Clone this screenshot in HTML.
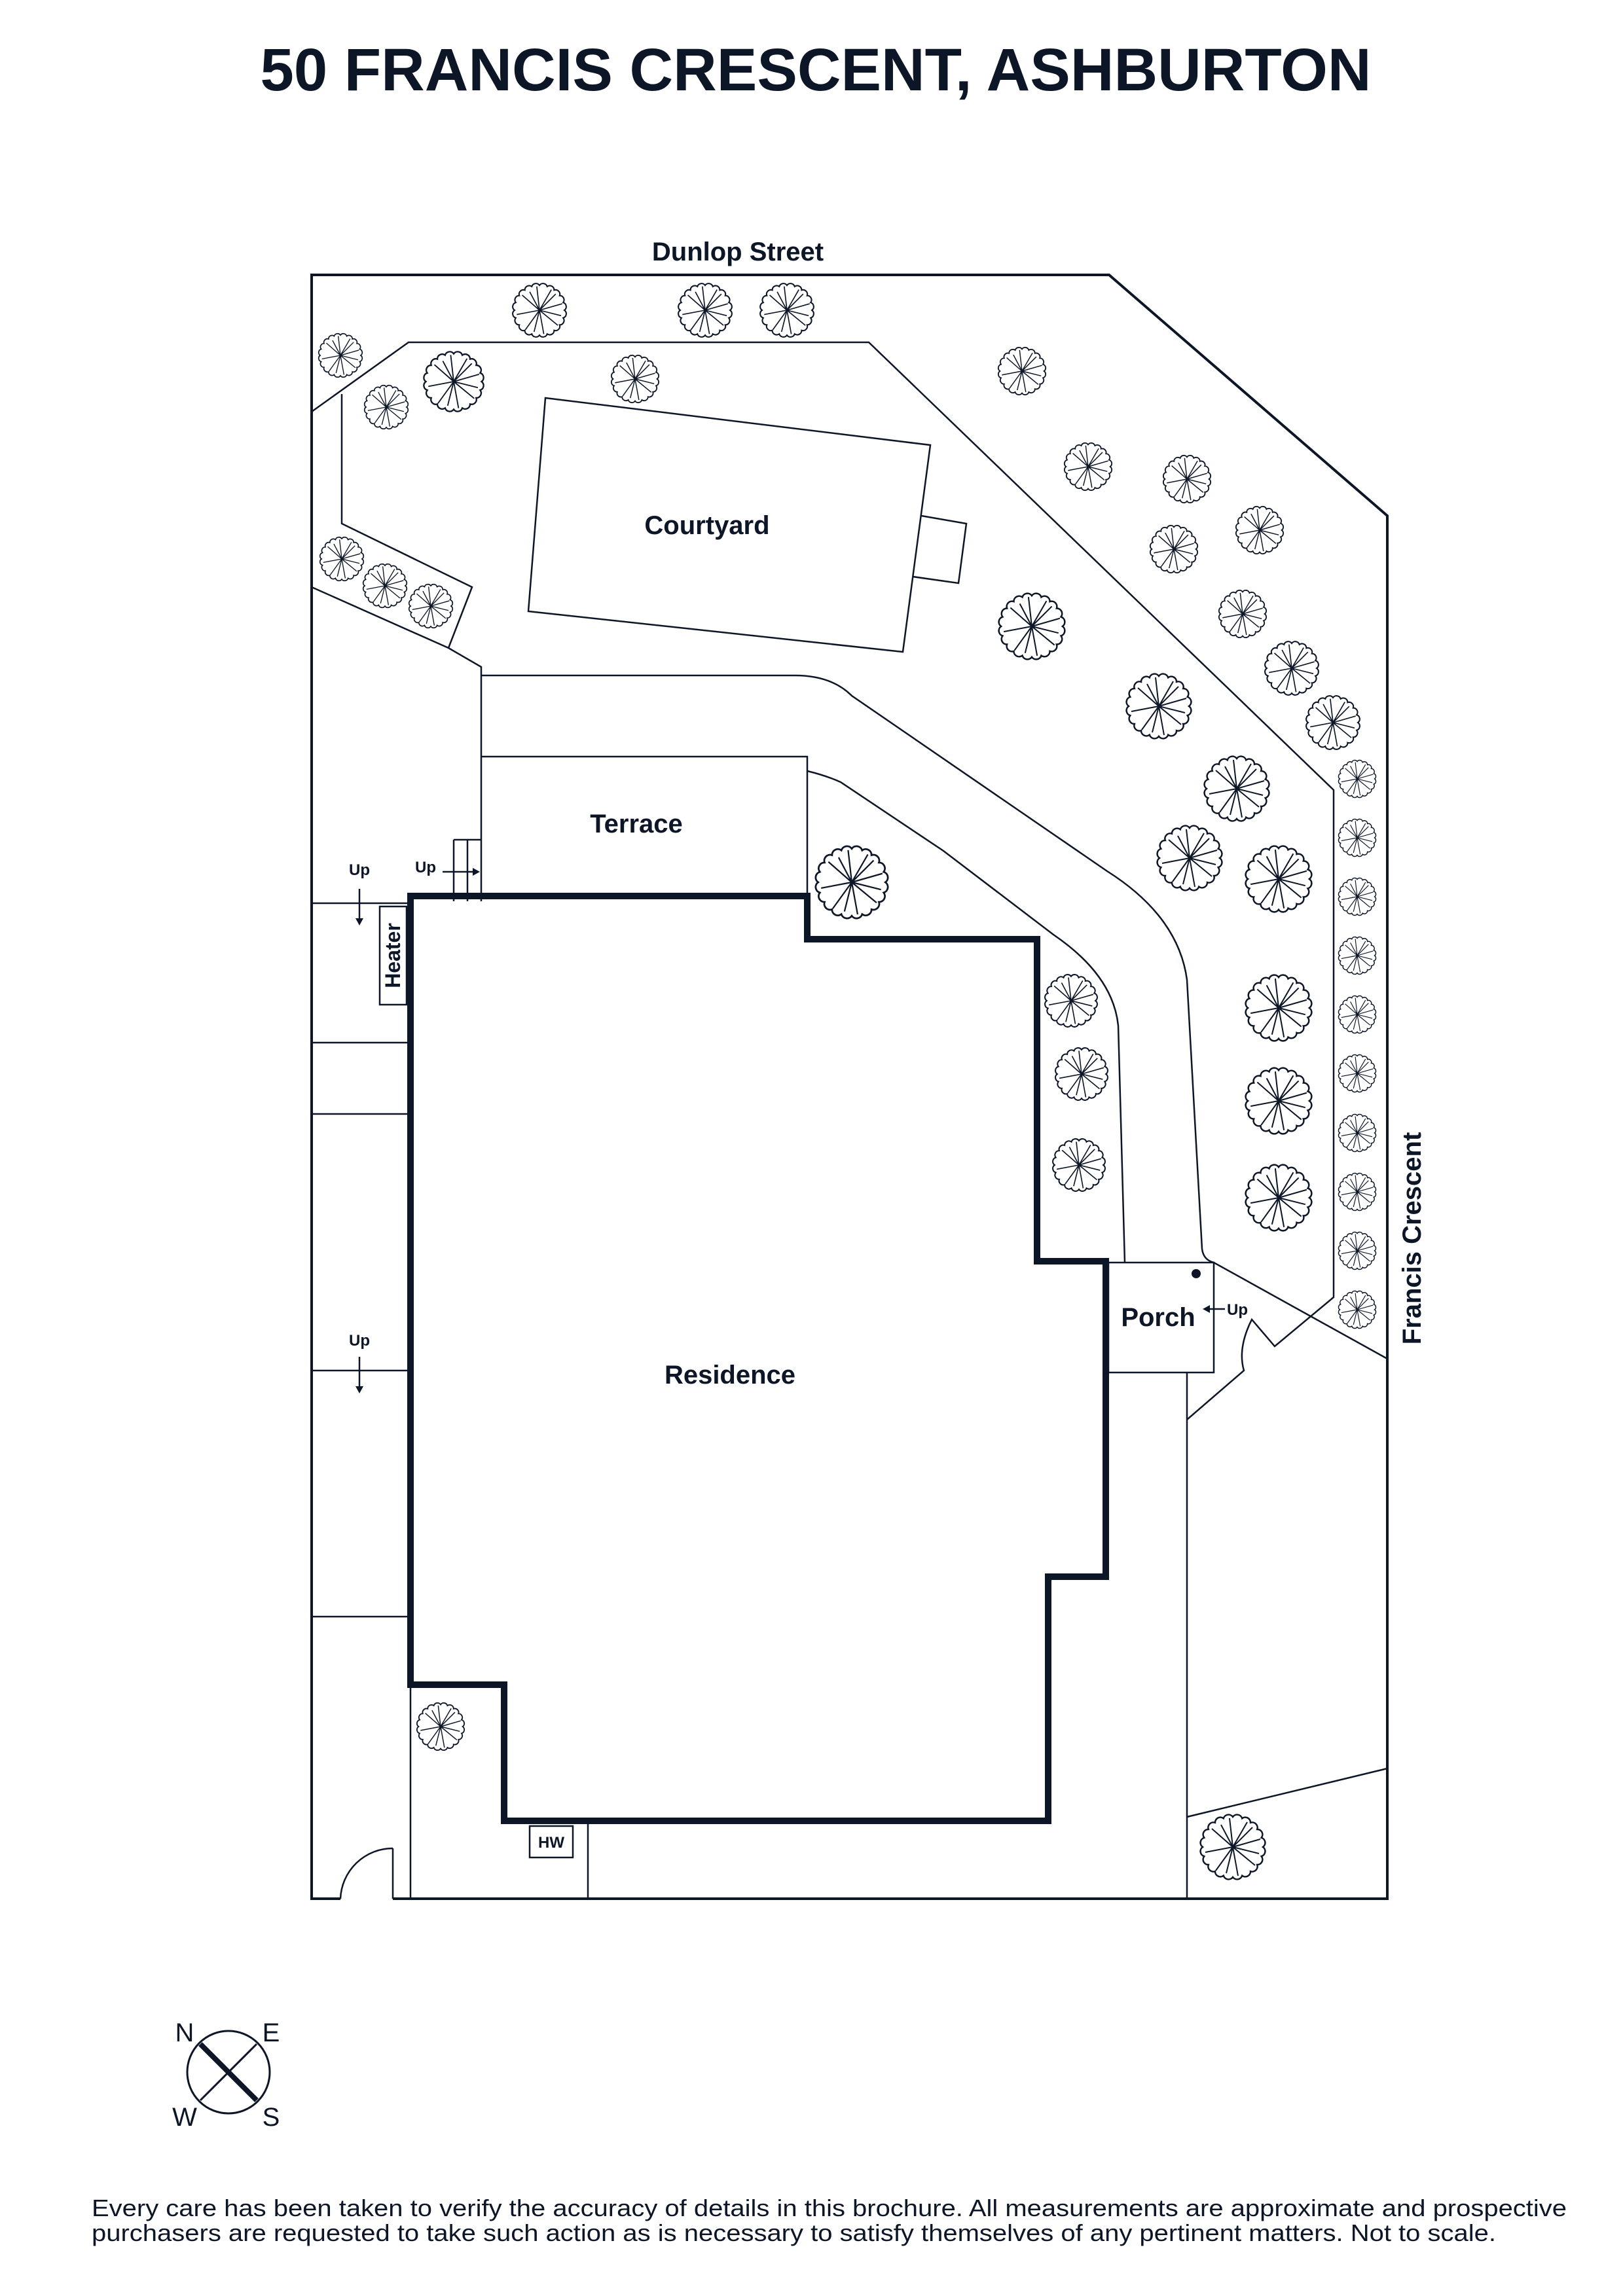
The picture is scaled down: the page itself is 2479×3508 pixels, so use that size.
<!DOCTYPE html>
<html><head><meta charset="utf-8"><style>
html,body{margin:0;padding:0;background:#fff}
svg{display:block}
text{font-family:"Liberation Sans",sans-serif;fill:#0d1626}
</style></head><body>
<svg width="2479" height="3508" viewBox="0 0 2479 3508" xmlns="http://www.w3.org/2000/svg">
<defs>
<symbol id="t" viewBox="-52 -52 104 104">
<path d="M46 0A8 8 0 0 1 43.75 14.21A8 8 0 0 1 37.21 27.04A8 8 0 0 1 27.04 37.21A8 8 0 0 1 14.21 43.75A8 8 0 0 1 0 46A8 8 0 0 1 -14.21 43.75A8 8 0 0 1 -27.04 37.21A8 8 0 0 1 -37.21 27.04A8 8 0 0 1 -43.75 14.21A8 8 0 0 1 -46 0A8 8 0 0 1 -43.75 -14.21A8 8 0 0 1 -37.21 -27.04A8 8 0 0 1 -27.04 -37.21A8 8 0 0 1 -14.21 -43.75A8 8 0 0 1 0 -46A8 8 0 0 1 14.21 -43.75A8 8 0 0 1 27.04 -37.21A8 8 0 0 1 37.21 -27.04A8 8 0 0 1 43.75 -14.21A8 8 0 0 1 46 0Z" fill="none" stroke="#0d1626" stroke-width="2.5"/>
<g stroke="#0d1626" stroke-width="2" fill="none">
<path d="M0 0L-5 -44M0 0L22 -38M0 0L42 -12M0 0L34 28M0 0L8 44M0 0L-26 36M0 0L-42 8M0 0L-32 -28M0 0L-18 -34M0 0L30 -30M0 0L40 10M0 0L-10 40"/>
</g>
</symbol>
</defs>
<rect width="2479" height="3508" fill="#fff"/>
<text x="1246" y="138" font-size="92" font-weight="bold" text-anchor="middle" textLength="1697" lengthAdjust="spacingAndGlyphs">50 FRANCIS CRESCENT, ASHBURTON</text>

<g fill="none" stroke="#0d1626" stroke-width="2.5" stroke-linejoin="miter">
<path d="M520 2901 L476 2901 L476 420 L1694 420 L2119 788 L2119 2901 L600 2901" stroke-width="4"/>
<path d="M476 629 L624 523 L1327 523 L2037 1207 L2037 1982 L1947 2057 L1912 2016 Q1890 2060 1900 2094 L1813 2169"/>
<path d="M522 602 L522 800 L721 897 L685 990"/>
<path d="M476 897 L685 990 L735 1019 L735 1377"/>
<path d="M735 1032 L1214 1032 Q1270 1032 1301 1063 L1691 1331 Q1800 1400 1813 1497 L1836 1908 Q1838 1925 1854 1929 L2119 2076"/>
<path d="M1233 1178 Q1262 1185 1284 1195 L1441 1300 L1609 1428 Q1700 1490 1708 1567 L1718 1929"/>
<path d="M833 608 L1421 680 L1379 996 L807 934 Z"/>
<path d="M1407 788 L1476 800 L1464 891 L1394 881"/>
<path d="M735 1156 L1233 1156 L1233 1369"/>
<path d="M693 1283 L735 1283 M693 1283 L693 1377 M714 1283 L714 1377"/>
<path d="M476 1380 L627 1380 M476 1593 L627 1593 M476 1702 L627 1702 M476 2094 L627 2094 M476 2470 L627 2470"/>
<rect x="580" y="1385" width="41" height="150"/>
<path d="M627 2574 L627 2901 M600 2824 L600 2901 M520 2901 A80 80 0 0 1 600 2824"/>
<rect x="809" y="2790" width="66" height="48"/>
<path d="M898 2782 L898 2901"/>
<rect x="1693" y="1929" width="161" height="168"/>
<path d="M1813 2097 L1813 2901 M1813 2776 L2119 2702"/>
<path d="M549 1358 L549 1405 M549 2073 L549 2120 M676 1332 L724 1332 M1871 2000 L1846 2000"/>
</g>
<g fill="#0d1626">
<path d="M543 1403 L555 1403 L549 1414 Z M543 2118 L555 2118 L549 2129 Z M722 1326 L722 1338 L733 1332 Z M1848 1994 L1848 2006 L1837 2000 Z"/>
<circle cx="1827" cy="1946" r="7"/>
</g>
<path d="M627 1369 L1233 1369 L1233 1435 L1584 1435 L1584 1927 L1689 1927 L1689 2409 L1601 2409 L1601 2782 L770 2782 L770 2574 L627 2574 Z" fill="none" stroke="#0d1626" stroke-width="10"/>

<g>
<use href="#t" x="781" y="431" width="86" height="86"/>
<use href="#t" x="1034" y="431" width="86" height="86"/>
<use href="#t" x="1159" y="431" width="86" height="86"/>
<use href="#t" x="485" y="508" width="70" height="70"/>
<use href="#t" x="645" y="535" width="96" height="96"/>
<use href="#t" x="555" y="587" width="70" height="70"/>
<use href="#t" x="932" y="541" width="76" height="76"/>
<use href="#t" x="1523" y="529" width="76" height="76"/>
<use href="#t" x="1624" y="675" width="76" height="76"/>
<use href="#t" x="1775" y="694" width="76" height="76"/>
<use href="#t" x="1886" y="772" width="76" height="76"/>
<use href="#t" x="1755" y="801" width="76" height="76"/>
<use href="#t" x="1860" y="900" width="76" height="76"/>
<use href="#t" x="1523" y="904" width="106" height="106"/>
<use href="#t" x="1930" y="978" width="86" height="86"/>
<use href="#t" x="1718" y="1027" width="104" height="104"/>
<use href="#t" x="1993" y="1061" width="86" height="86"/>
<use href="#t" x="1837" y="1153" width="104" height="104"/>
<use href="#t" x="487" y="819" width="70" height="70"/>
<use href="#t" x="553" y="860" width="70" height="70"/>
<use href="#t" x="623" y="891" width="70" height="70"/>
<use href="#t" x="2043" y="1160" width="60" height="60"/>
<use href="#t" x="2043" y="1250" width="60" height="60"/>
<use href="#t" x="2043" y="1340" width="60" height="60"/>
<use href="#t" x="2043" y="1430" width="60" height="60"/>
<use href="#t" x="2043" y="1520" width="60" height="60"/>
<use href="#t" x="2043" y="1610" width="60" height="60"/>
<use href="#t" x="2043" y="1701" width="60" height="60"/>
<use href="#t" x="2043" y="1791" width="60" height="60"/>
<use href="#t" x="2043" y="1881" width="60" height="60"/>
<use href="#t" x="2043" y="1971" width="60" height="60"/>
<use href="#t" x="1243" y="1290" width="116" height="116"/>
<use href="#t" x="1594" y="1487" width="84" height="84"/>
<use href="#t" x="1610" y="1599" width="84" height="84"/>
<use href="#t" x="1606" y="1738" width="84" height="84"/>
<use href="#t" x="1900" y="1487" width="106" height="106"/>
<use href="#t" x="1900" y="1629" width="106" height="106"/>
<use href="#t" x="1900" y="1777" width="106" height="106"/>
<use href="#t" x="1765" y="1259" width="104" height="104"/>
<use href="#t" x="1900" y="1290" width="106" height="106"/>
<use href="#t" x="635" y="2600" width="76" height="76"/>
<use href="#t" x="1831" y="2770" width="104" height="104"/>
</g>

<g font-weight="bold">
<text x="1127" y="398" font-size="40" text-anchor="middle">Dunlop Street</text>
<text x="1080" y="816" font-size="40" text-anchor="middle">Courtyard</text>
<text x="972" y="1272" font-size="40" text-anchor="middle">Terrace</text>
<text x="1115" y="2114" font-size="40" text-anchor="middle">Residence</text>
<text x="1769" y="2026" font-size="40" text-anchor="middle">Porch</text>
<text x="549" y="1337" font-size="24" text-anchor="middle">Up</text>
<text x="650" y="1333" font-size="24" text-anchor="middle">Up</text>
<text x="549" y="2056" font-size="24" text-anchor="middle">Up</text>
<text x="1890" y="2009" font-size="24" text-anchor="middle">Up</text>
<text x="32" y="0" font-size="32" text-anchor="middle" transform="translate(600 1460) rotate(-90) translate(-32 11)">Heater</text>
<text x="842" y="2823" font-size="24" text-anchor="middle">HW</text>
<text font-size="40" text-anchor="middle" transform="translate(2156 1892) rotate(-90) translate(0 14)">Francis Crescent</text>
</g>

<g stroke="#0d1626" fill="none">
<circle cx="349" cy="3166" r="63" stroke-width="3"/>
<path d="M306 3123 L392 3209" stroke-width="8"/>
<path d="M392 3123 L306 3209" stroke-width="3"/>
</g>
<g font-size="40">
<text x="282" y="3119" text-anchor="middle">N</text>
<text x="414" y="3119" text-anchor="middle">E</text>
<text x="282" y="3248" text-anchor="middle">W</text>
<text x="414" y="3248" text-anchor="middle">S</text>
</g>
<g font-size="36">
<text x="140" y="3386" textLength="2253" lengthAdjust="spacingAndGlyphs">Every care has been taken to verify the accuracy of details in this brochure. All measurements are approximate and prospective</text>
<text x="140" y="3424" textLength="2145" lengthAdjust="spacingAndGlyphs">purchasers are requested to take such action as is necessary to satisfy themselves of any pertinent matters. Not to scale.</text>
</g>
</svg>
</body></html>
